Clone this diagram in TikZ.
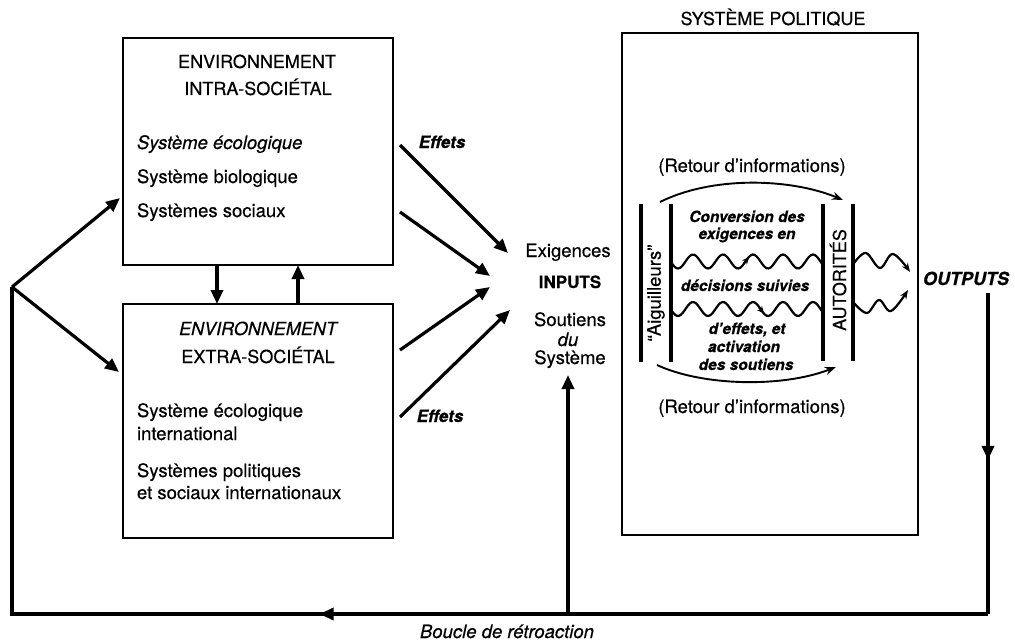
\documentclass[tikz,border=0pt]{standalone}
\usepackage{fontspec}
\setmainfont{TeX Gyre Heros}[FakeBold=0.45]
\usetikzlibrary{arrows.meta,decorations.markings}
\newcommand\fsz[2]{\fontsize{#1}{#2}\selectfont}
\begin{document}
\begin{tikzpicture}[x=1pt,y=-1pt,
  every node/.style={inner sep=0pt,outer sep=0pt},
  frame/.style={draw,line width=2.3pt},
  body/.style={font=\fsz{18.5}{23}},
  ttl/.style={font=\fsz{18}{22}},
  ittl/.style={font=\itshape\fsz{18}{22}},
  itl/.style={font=\itshape\fsz{18.5}{23}},
  bitl/.style={font=\bfseries\itshape\fsz{17}{20}},
  innertxt/.style={font=\bfseries\itshape\fsz{15.5}{17}},
  heavy/.style={line width=3.2pt,-{Triangle[length=14pt,width=12pt]}},
  loopline/.style={line width=3.2pt},
  bar/.style={line width=3.2pt},
  arcarrow/.style={line width=1.9pt,-{Stealth[length=11pt,width=8pt]}},
  wave/.style={line width=2.2pt},
  wavearrow/.style={line width=2.2pt,-{Stealth[length=9pt,width=7pt]}},
  smalltip/.style={line width=1.8pt,-{Stealth[length=7pt,width=6.5pt]}},
  midtip/.style={postaction={decorate,decoration={markings,mark=at position #1 with {\arrow{Triangle[length=14pt,width=12pt]}}}}},
]
\useasboundingbox (0,0) rectangle (1015,642);

% ---------- boxes ----------
\node[frame,minimum width=270pt,minimum height=227pt] (intra) at (258,151.5) {};
\node[frame,minimum width=270pt,minimum height=234pt] (extra) at (258,421) {};
\node[frame,minimum width=296pt,minimum height=502pt] (sp) at (770,284) {};

% ---------- intra-societal box text ----------
\node[ttl,anchor=base] (i1) at (257,68) {ENVIRONNEMENT};
\node[ttl,anchor=base] (i2) at (258,95) {INTRA-SOCIÉTAL};
\node[itl,anchor=base west] (i3) at (137,149) {Système écologique};
\node[body,anchor=base west] (i4) at (137,183) {Système biologique};
\node[body,anchor=base west] (i5) at (137,217) {Systèmes sociaux};

% ---------- extra-societal box text ----------
\node[ittl,anchor=base] (x1) at (258,335) {ENVIRONNEMENT};
\node[ttl,anchor=base] (x2) at (258,363) {EXTRA-SOCIÉTAL};
\node[body,anchor=base west] (x3) at (137,417) {Système écologique};
\node[body,anchor=base west] (x4) at (137,440) {international};
\node[body,anchor=base west] (x5) at (137,477) {Systèmes politiques};
\node[body,anchor=base west] (x6) at (137,499) {et sociaux internationaux};

% ---------- inputs ----------
\node[body,anchor=base] (ex) at (568,257) {Exigences};
\node[font=\bfseries\fsz{17}{20},anchor=base] (inp) at (570,288) {INPUTS};
\node[body,anchor=base] (so1) at (570,326) {Soutiens};
\node[itl,anchor=base] (so2) at (568,346) {du};
\node[body,anchor=base] (so3) at (570,364) {Système};

\node[bitl,anchor=base] (ef1) at (442,148) {Effets};
\node[bitl,anchor=base] (ef2) at (440,422) {Effets};

% ---------- effect arrows ----------
\coordinate (e1s) at (400,145); \coordinate (e1t) at (508,253);
\coordinate (e2s) at (400,212); \coordinate (e2t) at (490,276);
\coordinate (e3s) at (400,350); \coordinate (e3t) at (490,287);
\coordinate (e4s) at (400,417); \coordinate (e4t) at (510,310);
\draw[heavy] (e1s) -- (e1t);
\draw[heavy] (e2s) -- (e2t);
\draw[heavy] (e3s) -- (e3t);
\draw[heavy] (e4s) -- (e4t);

% ---------- arrows between the two environments ----------
\coordinate (dA) at (217,0);
\coordinate (dB) at (298,0);
\draw[heavy] (intra.south -| dA) -- (extra.north -| dA);
\draw[heavy] (extra.north -| dB) -- (intra.south -| dB);

% ---------- political system ----------
\node[ttl,anchor=base] (spt) at (773,25) {SYSTÈME POLITIQUE};
\node[body,anchor=base] (r1) at (752,172) {(Retour d’informations)};
\node[body,anchor=base] (r2) at (752,413) {(Retour d’informations)};

\draw[bar] (641,204) -- (641,362);
\draw[bar] (671,204) -- (671,362);
\draw[bar] (823,204) -- (823,361);
\draw[bar] (853,204) -- (853,361);

\node[body,rotate=90] (aig) at (656,293) {“Aiguilleurs”};
\node[font=\fsz{18}{22},rotate=90] (aut) at (838,280) {AUTORITÉS};

\node[innertxt,anchor=base] (c1) at (747,222) {Conversion des};
\node[innertxt,anchor=base] (c2) at (747,239) {exigences en};
\node[innertxt,anchor=base] (c3) at (745,291) {décisions suivies};
\node[innertxt,anchor=base] (c4) at (747,334) {d’effets, et};
\node[innertxt,anchor=base] (c5) at (744,352) {activation};
\node[innertxt,anchor=base] (c6) at (746,370) {des soutiens};

% feedback arcs
\draw[arcarrow] (660,202) .. controls (712,176) and (790,178) .. (843,200);
\draw[arcarrow] (657,365) .. controls (702,386) and (782,388) .. (836,367);

% conversion waves
\draw[wave] plot[domain=672:823,samples=76] (\x,{261.5-7*sin((\x-685.5)*12)});
\draw[wave] plot[domain=672:823,samples=76] (\x,{309-7*sin((\x-685.5)*12)});
\coordinate (w1a) at (744,263); \coordinate (w1b) at (749,257.2);
\coordinate (w2a) at (759,307.6); \coordinate (w2b) at (764,313.3);
\draw[smalltip] (w1a) -- (w1b);
\draw[smalltip] (w2a) -- (w2b);

% output waves
\draw[wavearrow] plot[smooth,tension=0.6] coordinates {(854,263) (866,253) (880,268) (893,254) (910,272)};
\draw[wavearrow] plot[smooth,tension=0.6] coordinates {(854,303) (867,313) (879,300) (891,311) (908,290)};

\node[font=\bfseries\itshape\fsz{18}{22},anchor=base west] (out) at (923,285) {OUTPUTS};

% ---------- feedback loop ----------
\coordinate (oT) at (988,293);
\coordinate (bR) at (988,614);
\coordinate (bL) at (12,614);
\coordinate (cL) at (12,287);
\coordinate (inB) at (568,614);
\coordinate (inT) at (568,375);
\coordinate (toI) at (120,198);
\coordinate (toX) at (119,372);

\draw[loopline,midtip=0.52] (oT) -- (bR);
\draw[loopline,midtip=0.513,line join=miter] (bR) -- (bL) -- (cL);
\draw[heavy] (inB) -- (inT);
\draw[heavy] (cL) -- (toI);
\draw[heavy] (cL) -- (toX);

\node[itl,anchor=base] (boucle) at (507,638) {Boucle de rétroaction};
\end{tikzpicture}
\end{document}
